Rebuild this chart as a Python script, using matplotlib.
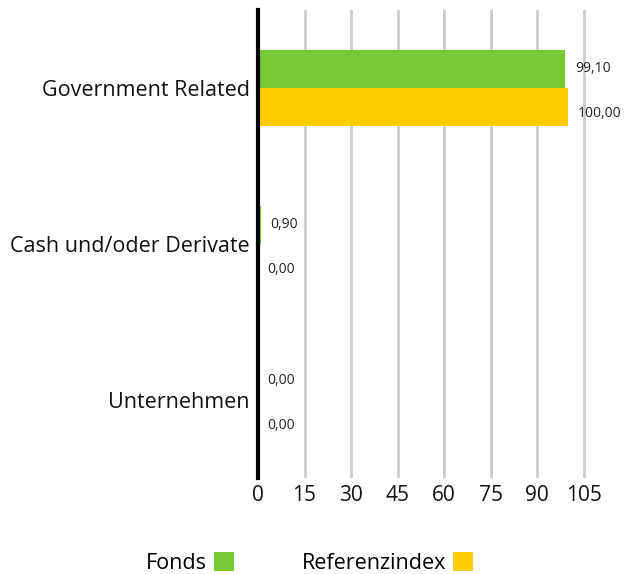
import matplotlib
matplotlib.use("Agg")
import matplotlib.pyplot as plt
import numpy as np

categories = ["Government Related", "Cash und/oder Derivate", "Unternehmen"]
fonds = [99.10, 0.90, 0.00]
referenz = [100.00, 0.00, 0.00]
series_names = ["Fonds", "Referenzindex"]
xticks = [0, 15, 30, 45, 60, 75, 90, 105]

green = "#76C933"
yellow = "#FFCC00"

plt.rcParams['font.family'] = ['Open Sans', 'DejaVu Sans']

fig = plt.figure(figsize=(6.25, 5.74), dpi=100)
ax = fig.add_axes([258/625, 1-478/574, (599-258)/625, (478-10)/574])

y = np.arange(len(categories))
h = 0.245
b1 = ax.barh(y - h/2, fonds, height=h, color=green, label=series_names[0], zorder=3)
b2 = ax.barh(y + h/2, referenz, height=h, color=yellow, label=series_names[1], zorder=3)

def fmt(v):
    return f"{v:.2f}".replace(".", ",")

for bars, vals, dy in ((b1, fonds, 0.4), (b2, referenz, -4.6)):
    for rect, v in zip(bars, vals):
        ax.annotate(fmt(v), xy=(rect.get_width(), rect.get_y() + rect.get_height()/2),
                    xytext=(7, dy), textcoords="offset points", ha="left", va="center",
                    fontsize=10, color="#222222")

ax.set_xlim(0, 110)
ax.set_ylim(2.5, -0.5)
ax.set_xticks(xticks)
ax.set_xticklabels([str(t) for t in xticks], fontsize=15, color="#111111")
ax.set_yticks(y)
ax.set_yticklabels(categories, fontsize=15.5, color="#111111")
ax.tick_params(axis="both", length=0)
ax.tick_params(axis="y", pad=6)
ax.tick_params(axis="x", pad=5)

ax.grid(axis="x", color="#cccccc", linewidth=2, zorder=0)
ax.grid(axis="y", visible=False)
for s in ("top", "right", "bottom"):
    ax.spines[s].set_visible(False)
ax.spines["left"].set_linewidth(3)
ax.spines["left"].set_color("black")
ax.spines["left"].set_zorder(4)

leg = ax.legend(handles=[b1, b2], loc="center", bbox_to_anchor=(309.5/625, 1-563/574),
                bbox_transform=fig.transFigure, ncol=2, frameon=False,
                markerfirst=False, handlelength=0.95, handleheight=1.0,
                handletextpad=0.31, columnspacing=3.13, fontsize=15.5)

fig.savefig("out.png", dpi=100)
